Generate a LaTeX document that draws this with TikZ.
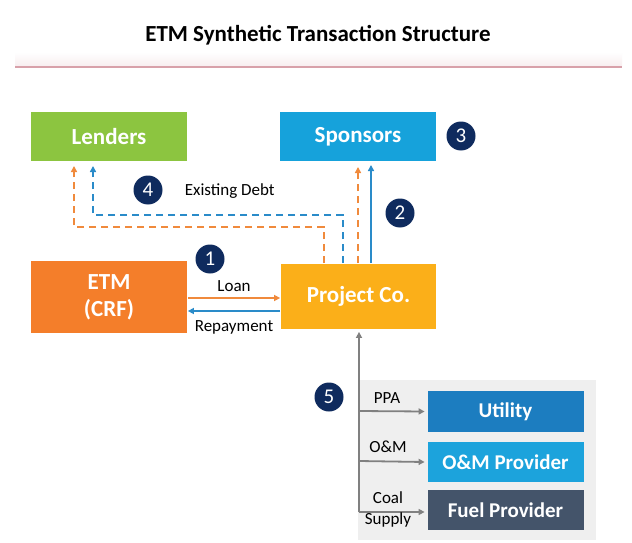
\documentclass[tikz,border=0pt]{standalone}
\usepackage{fontspec}
\setmainfont{Carlito}
\usetikzlibrary{arrows.meta,calc}

\definecolor{lendgreen}{HTML}{8CC540}
\definecolor{sponsblue}{HTML}{16A2DB}
\definecolor{etmorange}{HTML}{F47E2A}
\definecolor{projamber}{HTML}{FBAF19}
\definecolor{utilblue}{HTML}{1C7DC0}
\definecolor{ombblue}{HTML}{1CA3DC}
\definecolor{fuelslate}{HTML}{44546A}
\definecolor{badgenavy}{HTML}{0F2B5E}
\definecolor{flowgray}{HTML}{808080}
\definecolor{panelgray}{HTML}{EFEFEF}
\definecolor{ruleline}{HTML}{D8A1AA}
\definecolor{arrorange}{HTML}{F08A3C}
\definecolor{arrblue}{HTML}{2A8BC9}

\tikzset{
  entity/.style={draw=none, minimum width=156pt, inner sep=0pt, text=white,
    font=\fontsize{23}{26}\selectfont\bfseries, align=center},
  subentity/.style={draw=none, minimum width=156pt, minimum height=41pt,
    inner sep=0pt, text=white, font=\fontsize{21}{23}\selectfont\bfseries},
  badge/.style={circle, fill=badgenavy, text=white, minimum size=29pt,
    inner sep=0pt, font=\fontsize{21}{21}\selectfont},
  lbl/.style={font=\fontsize{17}{19}\selectfont, text=black, inner sep=1pt},
  tip/.style={-{Triangle[length=6pt,width=6pt]}},
  dashline/.style={dash pattern=on 7pt off 5pt}
}

\begin{document}
\begin{tikzpicture}[x=1pt,y=-1pt, line width=1.8pt]
\useasboundingbox (0,0) rectangle (632,543);

% header
\fill[white] (0,0) rectangle (632,543);
\shade[top color=white, bottom color=ruleline!18, draw=none] (15,52) rectangle (622,66);
\node[font=\fontsize{23}{26}\selectfont\bfseries] (title) at (318,35) {ETM Synthetic Transaction Structure};
\draw[ruleline, line width=2pt] (15,67) -- (622,67);

% supplier panel
\fill[panelgray] (358,380) rectangle (596,540);

% main entities
\node[entity, fill=lendgreen, minimum height=49pt] (lenders) at (109,136.5) {Lenders};
\node[entity, fill=sponsblue, minimum height=49pt] (sponsors) at (358,136.5) {Sponsors};
\node[entity, fill=etmorange, minimum height=72pt] (etm) at (109,297) {ETM\\[1pt](CRF)};
\node[entity, fill=projamber, minimum height=65pt, minimum width=155pt] (proj) at (358.5,296.5) {Project Co.};

% contract counterparties
\node[subentity, fill=utilblue] (util) at (505.5,411.5) {Utility};
\node[subentity, fill=ombblue, minimum height=40pt] (om) at (505.5,462) {O\&M Provider};
\node[subentity, fill=fuelslate, minimum height=40pt] (fuel) at (505.5,510) {Fuel Provider};

% loan and repayment
\draw[tip, arrorange] ($(etm.east)+(0,1)$) -- node[lbl, above=4pt] (loanlbl) {Loan} ($(proj.west)+(0,1.5)$);
\draw[tip, arrblue] ($(proj.west)+(0,14.5)$) -- node[lbl, below=8pt] (replbl) {Repayment} ($(etm.east)+(0,14)$);

% equity flows to sponsors
\draw[tip, arrorange, dashline] (proj.north -| 358,0) -- (358,167);
\draw[tip, arrblue] (proj.north -| 371,0) -- (371,165);

% existing debt to lenders
\coordinate (odA) at (324,227);
\coordinate (odB) at (74,227);
\coordinate (bdA) at (343,215);
\coordinate (bdB) at (93,215);
\draw[tip, arrorange, dashline] (proj.north -| odA) -- (odA) -- (odB) -- (74,166);
\draw[tip, arrblue, dashline] (proj.north -| bdA) -- (bdA) -- (bdB) -- (93,166);
\node[lbl, anchor=west] (debtlbl) at (183,191) {Existing Debt};

% project contracts
\coordinate (trunk) at (359,512);
\draw[tip, flowgray] (trunk) -- ($(proj.south -| trunk)+(0,2)$);
\draw[tip, flowgray] (359,411) -- ($(util.west)+(-2,0)$);
\draw[tip, flowgray] (359,461) -- ($(om.west)+(-2,0)$);
\draw[tip, flowgray] (trunk) -- ($(fuel.west |- trunk)+(-2,0)$);
\node[lbl] (ppalbl) at (387,398) {PPA};
\node[lbl] (omlbl) at (388,447) {O\&M};
\node[lbl] (coallbl) at (388,498) {Coal};
\node[lbl] (supplbl) at (388,520) {Supply};

% step markers
\node[badge] (b1) at (210,259) {1};
\node[badge] (b2) at (400,213) {2};
\node[badge] (b3) at (461,136) {3};
\node[badge] (b4) at (148,190) {4};
\node[badge] (b5) at (329,397) {5};
\end{tikzpicture}
\end{document}
